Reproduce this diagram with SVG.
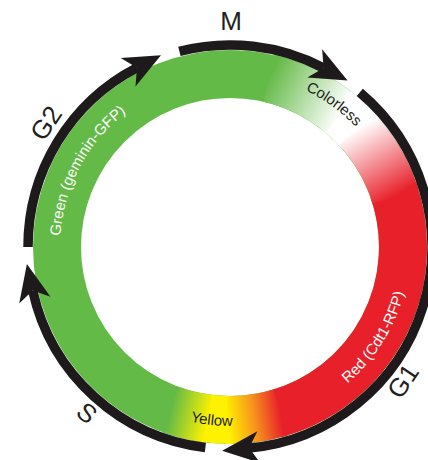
<svg xmlns="http://www.w3.org/2000/svg" xmlns:xlink="http://www.w3.org/1999/xlink" width="428" height="460" viewBox="0 0 428 460">
<style>
.seg{fill:none;stroke-width:48}
.arc{fill:none;stroke:#1e1a1b;stroke-width:9.5}
.phase{font-family:"Liberation Sans",Arial,sans-serif;font-size:26px;fill:#231f20;text-anchor:middle}
.lbl{font-family:"Liberation Sans",Arial,sans-serif;font-size:15px;text-anchor:middle}
</style>
<defs>
<marker id="head" markerUnits="userSpaceOnUse" orient="auto" overflow="visible" markerWidth="40" markerHeight="40" refX="0" refY="0">
<path d="M27,0 L-10,-16 L0,0 L-10,16 Z" fill="#1e1a1b"/>
</marker>
<linearGradient id="gB" gradientUnits="userSpaceOnUse" x1="268.9" y1="78.4" x2="341.2" y2="114.5">
<stop offset="0" stop-color="#64ba47"/><stop offset="1" stop-color="#ffffff"/>
</linearGradient>
<linearGradient id="gD" gradientUnits="userSpaceOnUse" x1="356.5" y1="129.0" x2="395.4" y2="196.4">
<stop offset="0" stop-color="#ffffff"/><stop offset="1" stop-color="#e8202a"/>
</linearGradient>
<linearGradient id="gF" gradientUnits="userSpaceOnUse" x1="280.6" y1="412.4" x2="227.0" y2="420.0">
<stop offset="0" stop-color="#e8202a"/><stop offset="0.5" stop-color="#f7941d"/><stop offset="1" stop-color="#fff200"/>
</linearGradient>
<linearGradient id="gH" gradientUnits="userSpaceOnUse" x1="208.9" y1="418.7" x2="170.8" y2="409.6">
<stop offset="0" stop-color="#fff200"/><stop offset="1" stop-color="#64ba47"/>
</linearGradient>
<path id="pGreen" d="M70.3,305.1 A170,170 0 0 1 188.9,82.0"/>
<path id="pColorless" d="M248.2,74.0 A174,174 0 0 1 388.9,176.2"/>
<path id="pRed" d="M255.1,425.3 A180,180 0 0 0 401.2,191.4"/>
<path id="pYellow" d="M124.8,391.8 A179,179 0 0 0 302.8,410.5"/>
</defs>
<rect width="428" height="460" fill="#ffffff"/>
<g id="ring">
<circle class="seg" cx="230" cy="247" r="173" stroke="#64ba47"/>
<path class="seg" stroke="#ffffff" d="M336.5,110.7 A173,173 0 0 1 360.6,133.5"/>
<path class="seg" stroke="#e8202a" d="M393.6,190.7 A173,173 0 0 1 274.8,414.1"/>
<path class="seg" stroke="#fff200" d="M233.0,420.0 A173,173 0 0 1 202.9,417.9"/>
<path class="seg" stroke="url(#gB)" d="M268.9,78.4 A173,173 0 0 1 341.2,114.5"/>
<path class="seg" stroke="url(#gD)" d="M356.5,129.0 A173,173 0 0 1 395.4,196.4"/>
<path class="seg" stroke="url(#gF)" d="M280.6,412.4 A173,173 0 0 1 227.0,420.0"/>
<path class="seg" stroke="url(#gH)" d="M208.9,418.7 A173,173 0 0 1 170.8,409.6"/>
</g>
<g id="connectors">
<path class="arc" marker-end="url(#head)" d="M28,247 A202,202 0 0 1 137.0,67.7"/>
<path class="arc" marker-end="url(#head)" d="M179.4,51.4 A202,202 0 0 1 323.6,68.0"/>
<path class="arc" marker-end="url(#head)" d="M359.8,92.3 A202,202 0 0 1 249.0,448.1"/>
<path class="arc" marker-end="url(#head)" d="M205.4,447.5 A202,202 0 0 1 32.7,290.4"/>
</g>
<g id="phase-M"><text class="phase" x="231" y="30" font-size="27">M</text></g>
<g id="phase-G2"><text class="phase" transform="translate(46,123) rotate(-56)" y="9">G2</text></g>
<g id="phase-G1"><text class="phase" transform="translate(403,381) rotate(-56)" y="9">G1</text></g>
<g id="phase-S"><text class="phase" transform="translate(87,413) rotate(40)" y="9">S</text></g>
<g id="label-green"><text class="lbl" fill="#ffffff"><textPath xlink:href="#pGreen" href="#pGreen" startOffset="50%">Green (geminin-GFP)</textPath></text></g>
<g id="label-colorless"><text class="lbl" fill="#231f20" font-size="14"><textPath xlink:href="#pColorless" href="#pColorless" startOffset="50%">Colorless</textPath></text></g>
<g id="label-red"><text class="lbl" fill="#ffffff"><textPath xlink:href="#pRed" href="#pRed" startOffset="50%">Red (Cdt1-RFP)</textPath></text></g>
<g id="label-yellow"><text class="lbl" fill="#231f20" font-size="14"><textPath xlink:href="#pYellow" href="#pYellow" startOffset="50%">Yellow</textPath></text></g>
</svg>
